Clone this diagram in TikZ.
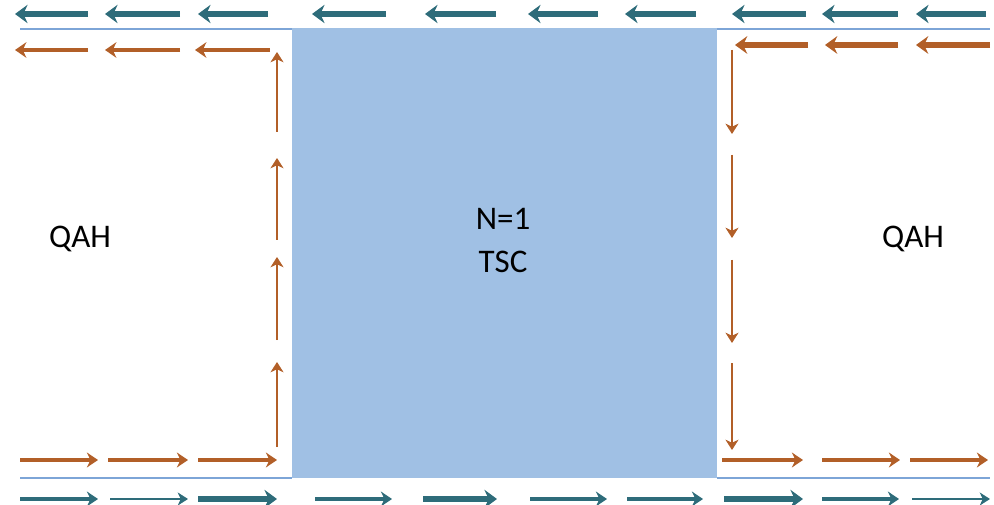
\documentclass[tikz,border=0pt]{standalone}
\usepackage{fontspec}
\setmainfont{Carlito}
\usetikzlibrary{arrows.meta}
\definecolor{tealc}{RGB}{46,108,122}
\definecolor{orangec}{RGB}{178,95,40}
\definecolor{boxfill}{RGB}{160,192,228}
\definecolor{edgeline}{RGB}{125,165,215}
\tikzset{
  arr/.style={-{Stealth[length=9pt 0.6,width=10pt 1.4,inset=2.5pt 0.3]}},
  tealarr/.style={arr, draw=tealc, fill=tealc, line width=#1},
  orarr/.style={arr, draw=orangec, fill=orangec, line width=#1},
  edge/.style={draw=edgeline, line width=2pt},
  lbl/.style={font=\fontsize{33}{41}\selectfont, align=center, inner sep=0pt}
}
\begin{document}
\begin{tikzpicture}[x=1pt,y=-1pt]
\useasboundingbox (0,0) rectangle (994,505);
% TSC region
\fill[boxfill] (292,28) rectangle (717,478);
% edges
\coordinate (tl1) at (20,29); \coordinate (tl2) at (292,29);
\coordinate (tr1) at (717,29); \coordinate (tr2) at (990,29);
\coordinate (bl1) at (20,478); \coordinate (bl2) at (292,478);
\coordinate (br1) at (717,478); \coordinate (br2) at (990,478);
\draw[edge] (tl1) -- (tl2);
\draw[edge] (tr1) -- (tr2);
\draw[edge] (bl1) -- (bl2);
\draw[edge] (br1) -- (br2);
% top teal arrows (pointing left)
\foreach \tl/\hd [count=\i] in {88/15,180/105,268/198,386/312,496/425,598/528,696/625,806/732,898/822,986/916}{
  \coordinate (tta\i) at (\tl,14); \coordinate (ttb\i) at (\hd,14);
  \draw[tealarr=6pt] (tta\i) -- (ttb\i);
}
% top orange arrows left side
\foreach \tl/\hd [count=\i] in {88/15,180/105,270/195}{
  \coordinate (ola\i) at (\tl,50); \coordinate (olb\i) at (\hd,50);
  \draw[orarr=4pt] (ola\i) -- (olb\i);
}
% top orange arrows right side
\foreach \tl/\hd [count=\i] in {808/735,898/825,990/916}{
  \coordinate (ora\i) at (\tl,45); \coordinate (orb\i) at (\hd,45);
  \draw[orarr=5.5pt] (ora\i) -- (orb\i);
}
% left vertical (up)
\foreach \tl/\hd [count=\i] in {447/362,340/257,240/158,132/52}{
  \coordinate (lva\i) at (277,\tl); \coordinate (lvb\i) at (277,\hd);
  \draw[orarr=2.2pt] (lva\i) -- (lvb\i);
}
% right vertical (down)
\foreach \tl/\hd [count=\i] in {50/134,155/238,260/343,363/450}{
  \coordinate (rva\i) at (732,\tl); \coordinate (rvb\i) at (732,\hd);
  \draw[orarr=2.2pt] (rva\i) -- (rvb\i);
}
% bottom orange arrows
\foreach \tl/\hd [count=\i] in {20/98,108/188,198/277,722/803,822/900,910/988}{
  \coordinate (boa\i) at (\tl,460); \coordinate (bob\i) at (\hd,460);
  \draw[orarr=3.5pt] (boa\i) -- (bob\i);
}
% bottom teal arrows
\foreach \tl/\hd/\w [count=\i] in {20/98/3.5,110/188/2.2,198/277/6,315/392/3.5,423/497/6,530/607/3.5,627/703/3.5,724/803/6,822/899/3.5,912/990/2.2}{
  \coordinate (bta\i) at (\tl,499); \coordinate (btb\i) at (\hd,499);
  \draw[tealarr=\w pt] (bta\i) -- (btb\i);
}
% labels
\node[lbl] (qahl) at (80,239) {QAH};
\node[lbl] (qahr) at (913,239) {QAH};
\node[lbl, anchor=base] (n1) at (503,230) {N=1};
\node[lbl, anchor=base] (tsc) at (503,273) {TSC};
\end{tikzpicture}
\end{document}
